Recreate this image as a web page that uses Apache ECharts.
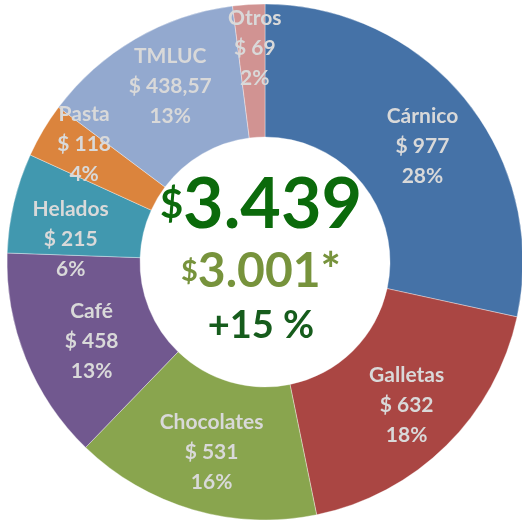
<!DOCTYPE html>
<html>
<head>
<meta charset="utf-8">
<script src="https://cdn.jsdelivr.net/npm/echarts@6/dist/echarts.min.js"></script>
<style>
  html, body { margin: 0; padding: 0; background: #fff; }
  #chart { width: 522px; height: 523px; }
</style>
</head>
<body>
<div id="chart"></div>
<script>
const categories = ["Cárnico", "Galletas", "Chocolates", "Café", "Helados", "Pasta", "TMLUC", "Otros"];
const values = [977, 632, 531, 458, 215, 118, 438.57, 69];
const valueLabels = ["977", "632", "531", "458", "215", "118", "438,57", "69"];
const percentLabels = ["28%", "18%", "16%", "13%", "6%", "4%", "13%", "2%"];
const colors = ["#4572a7", "#aa4643", "#89a54e", "#71588f", "#4198af", "#db843d", "#93a9cf", "#d19392"];

const totalLabel = "3.439";
const previousLabel = "3.001*";
const growthLabel = "+15 %";

// nudges so the labels sit where the original puts them
const labelShift = [[6, 6], [5, 5], [1, 4], [7, 6], [-5, 22], [46, 14], [3, -8], [2, -20]];

const chart = echarts.init(document.getElementById("chart"));

chart.setOption({
  backgroundColor: "#fff",
  animation: false,
  series: [
    {
      type: "pie",
      center: [265, 262],
      radius: [125, 258],
      startAngle: 90,
      clockwise: true,
      avoidLabelOverlap: false,
      itemStyle: { borderColor: "rgba(255,255,255,0.6)", borderWidth: 0.6 },
      label: {
        show: true,
        position: "inside",
        color: "#d9d9d9",
        fontFamily: "Lato",
        fontWeight: "bold",
        fontSize: 21,
        lineHeight: 30,
        formatter: (p) => [categories[p.dataIndex], "$ " + valueLabels[p.dataIndex], percentLabels[p.dataIndex]].join("\n"),
      },
      labelLine: { show: false, length: 0, length2: 0 },
      labelLayout: (p) => ({
        align: "center",
        dx: labelShift[p.dataIndex][0],
        dy: labelShift[p.dataIndex][1],
      }),
      data: categories.map((name, i) => ({
        name,
        value: values[i],
        itemStyle: { color: colors[i] },
        // small slice: inside labels get dropped, so place it from outside
        label: name === "Pasta" ? { position: "outside" } : undefined,
      })),
    },
  ],
  graphic: [
    {
      type: "text",
      left: "center",
      top: 170,
      style: {
        text: "{s|$}{b|" + totalLabel + "}",
        rich: {
          s: { fontFamily: "Lato", fontWeight: "bold", fontSize: 40, fill: "#0b6a0b" },
          b: { fontFamily: "Lato", fontWeight: "bold", fontSize: 70, fill: "#0b6a0b" },
        },
      },
    },
    {
      type: "text",
      left: "center",
      top: 248,
      style: {
        text: "{s|$}{b|" + previousLabel + "}",
        rich: {
          s: { fontFamily: "Lato", fontWeight: "bold", fontSize: 29, fill: "#77933c" },
          b: { fontFamily: "Lato", fontWeight: "bold", fontSize: 48, fill: "#77933c" },
        },
      },
    },
    {
      type: "text",
      left: "center",
      top: 307,
      style: {
        text: growthLabel,
        fontFamily: "Lato",
        fontWeight: "bold",
        fontSize: 38,
        fill: "#165c1c",
      },
    },
  ],
});
</script>
</body>
</html>
